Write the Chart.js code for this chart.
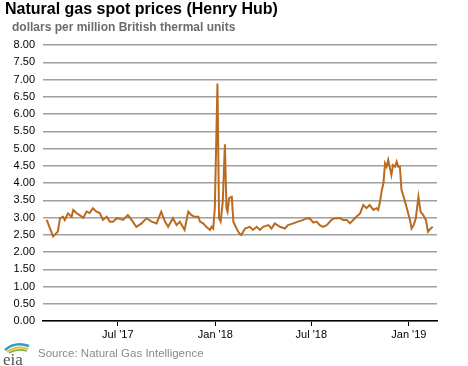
<!DOCTYPE html>
<html>
<head>
<meta charset="utf-8">
<script src="https://cdn.jsdelivr.net/npm/chart.js@4"></script>
<style>
  body { margin:0; background:#fff; font-family:"Liberation Sans", Arial, sans-serif; }
  #wrap { position:relative; width:468px; height:366px; overflow:hidden; }
  #title { position:absolute; left:5px; top:0px; font-size:16px; font-weight:bold; color:#000; }
  #sub { position:absolute; left:12px; top:20px; font-size:12px; font-weight:bold; color:#6b6b6b; }
  #src { position:absolute; left:38px; top:347px; font-size:11.5px; color:#8a8a8a; }
  #logo { position:absolute; left:2px; top:340px; }
  canvas { position:absolute; left:0; top:0; }
</style>
</head>
<body>
<div id="wrap">
  <canvas id="chart" width="468" height="366"></canvas>
  <div id="title">Natural gas spot prices (Henry Hub)</div>
  <div id="sub">dollars per million British thermal units</div>
  <svg id="logo" width="30" height="26" viewBox="0 0 30 26">
    <path d="M3 10 Q13 1 27 6" stroke="#2a9bd1" stroke-width="2.5" fill="none"/>
    <path d="M5 12 Q14 5 26 9" stroke="#f2b630" stroke-width="2" fill="none"/>
    <path d="M7 13 Q15 8 25 11" stroke="#7ab648" stroke-width="1.5" fill="none"/>
    <text x="1" y="25" font-family="Liberation Serif, serif" font-size="17" fill="#555">eia</text>
  </svg>
  <div id="src">Source: Natural Gas Intelligence</div>
</div>
<script>
// days counted from Jan 1 2017
const days = [47,59,68,72,78,81,87,94,97,103,109,116,122,128,134,141,147,153,160,166,172,179,185,
  191,200,207,216,226,235,245,254,263,270,276,285,292,298,307,314,320,326,333,336,342,348,355,358,361,364,
  369,372,375,379,383,386,388,391,396,399,405,410,414,421,430,436,443,449,455,465,471,477,487,496,502,512,
  521,531,537,543,550,556,562,568,575,584,590,600,606,613,619,625,631,638,644,650,656,663,669,672,675,679,
  682,685,688,691,697,700,704,707,710,713,716,719,722,727,732,735,739,743,748,752,757,762,766,771,775];
const prices = [2.93,2.45,2.59,2.98,3.02,2.93,3.12,3.02,3.22,3.13,3.07,2.99,3.17,3.13,3.27,3.17,3.13,2.93,3.02,2.88,2.88,2.98,2.96,
  2.93,3.07,2.93,2.73,2.83,2.98,2.88,2.83,3.17,2.88,2.73,2.98,2.78,2.88,2.64,3.17,3.07,3.02,3.02,2.88,2.83,2.73,2.64,2.73,2.68,3.27,
  6.88,2.98,2.88,3.46,5.12,3.27,3.17,3.56,3.6,2.88,2.68,2.54,2.49,2.68,2.73,2.64,2.73,2.64,2.73,2.78,2.68,2.83,2.73,2.68,2.78,2.83,
  2.88,2.93,2.98,2.97,2.85,2.88,2.78,2.73,2.78,2.93,2.98,2.98,2.93,2.93,2.83,2.93,3.02,3.12,3.36,3.27,3.36,3.22,3.27,3.22,3.41,3.8,
  3.99,4.57,4.47,4.67,4.23,4.52,4.47,4.62,4.47,4.47,3.8,3.65,3.5,3.22,2.93,2.68,2.78,2.98,3.6,3.17,3.07,2.93,2.59,2.68,2.73,2.65];
const tickDays = [181,365,546,730];
const tickLabels = ["Jul '17","Jan '18","Jul '18","Jan '19"];

const ctx = document.getElementById("chart");
new Chart(ctx, {
  type: "line",
  data: {
    datasets: [{
      data: days.map((d, i) => ({ x: d, y: prices[i] })),
      borderColor: "#bb6a1f",
      borderWidth: 2,
      pointRadius: 0,
      tension: 0
    }]
  },
  options: {
    responsive: false,
    animation: false,
    layout: { padding: { top: 45, right: 31, left: 0, bottom: 0 } },
    plugins: { legend: { display: false }, tooltip: { enabled: false } },
    scales: {
      x: {
        type: "linear",
        min: 40, max: 783,
        afterBuildTicks: s => { s.ticks = tickDays.map(v => ({ value: v })); },
        afterFit: s => { s.height = 45; },
        ticks: {
          autoSkip: false, maxRotation: 0, padding: 2,
          color: "#000", font: { family: "Liberation Sans", size: 11 },
          callback: v => tickLabels[tickDays.indexOf(v)]
        },
        grid: { drawOnChartArea: false, drawTicks: true, tickLength: 5, color: "#000" },
        border: { color: "#000", width: 1.5 }
      },
      y: {
        min: 0, max: 8,
        afterFit: s => { s.width = 43; },
        ticks: {
          stepSize: 0.5, padding: 8,
          color: "#000", font: { family: "Liberation Sans", size: 11 },
          callback: v => v.toFixed(2)
        },
        grid: { color: "#a0a0a0", lineWidth: 1.5, drawTicks: false },
        border: { display: false }
      }
    }
  }
});
</script>
</body>
</html>
